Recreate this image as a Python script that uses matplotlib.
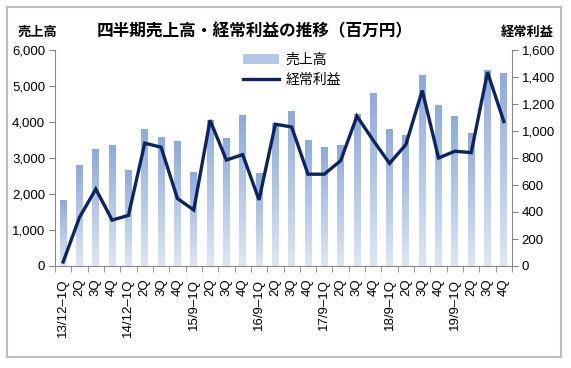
import numpy as np
import matplotlib
matplotlib.use('Agg')
import matplotlib.pyplot as plt
from matplotlib.patches import Rectangle
from matplotlib.lines import Line2D
from matplotlib.colors import LinearSegmentedColormap
from matplotlib.ticker import FuncFormatter

plt.rcParams['font.family'] = ['Liberation Sans', 'Noto Sans CJK JP']

## データ
quarters = ['13/12–1Q', '2Q', '3Q', '4Q',
            '14/12–1Q', '2Q', '3Q', '4Q',
            '15/9–1Q', '2Q', '3Q', '4Q',
            '16/9–1Q', '2Q', '3Q', '4Q',
            '17/9–1Q', '2Q', '3Q', '4Q',
            '18/9–1Q', '2Q', '3Q', '4Q',
            '19/9–1Q', '2Q', '3Q', '4Q']
sales = [1830, 2780, 3240, 3360, 2660, 3800, 3560, 3460,
         2600, 4050, 3550, 4180, 2560, 3950, 4280, 3490,
         3300, 3360, 4220, 4790, 3780, 3620, 5300, 4470,
         4160, 3670, 5420, 5360]
profit = [30, 360, 570, 340, 375, 910, 880, 500,
          415, 1080, 785, 825, 490, 1050, 1030, 680,
          680, 780, 1110, 930, 760, 900, 1300, 800,
          850, 840, 1435, 1070]

W, H = 571, 368
fig = plt.figure(figsize=(W / 100, H / 100), dpi=100)
ax = fig.add_axes([55 / W, 1 - 266 / H, (512 - 55) / W, (266 - 50) / H])

x = np.arange(len(quarters))
bars = ax.bar(x, sales, width=0.42, color='none', edgecolor='none', zorder=2)

## 棒グラフのグラデーション (棒ごとに下が薄く、上が濃い)
grad = np.linspace(0, 1, 256).reshape(-1, 1)
cmap = LinearSegmentedColormap.from_list('bar', ['#dde6f4', '#8eaadb'])
for b in bars:
    x0, w, h = b.get_x(), b.get_width(), b.get_height()
    ax.imshow(grad, extent=[x0, x0 + w, 0, h], origin='lower', cmap=cmap,
              aspect='auto', zorder=1.5, interpolation='bilinear')

gray = '#868686'
ax.set_xlim(-0.5, len(quarters) - 0.5)
ax.set_ylim(0, 6000)
ax.set_yticks(range(0, 6001, 1000))
ax.yaxis.set_major_formatter(FuncFormatter(lambda v, p: f'{int(v):,}'))
for s in ['top', 'right']:
    ax.spines[s].set_visible(False)
for s in ['left', 'bottom']:
    ax.spines[s].set_color(gray)
ax.tick_params(axis='y', length=4, color=gray, labelsize=9.5, pad=3)

ax.set_xticks(x)
ax.set_xticklabels(quarters, rotation=90, fontsize=9.5)
ax.tick_params(axis='x', which='major', length=0, pad=9)
ax.set_xticks(np.arange(-0.5, len(quarters), 1), minor=True)
ax.tick_params(axis='x', which='minor', length=4, color=gray, direction='out')

## 経常利益 (右軸)
ax2 = ax.twinx()
ax2.plot(x, profit, color='#0c2461', lw=2.4, solid_joinstyle='miter', zorder=3)
ax2.set_ylim(0, 1600)
ax2.set_yticks(range(0, 1601, 200))
ax2.yaxis.set_major_formatter(FuncFormatter(lambda v, p: f'{int(v):,}'))
for s in ['top', 'left', 'bottom']:
    ax2.spines[s].set_visible(False)
ax2.spines['right'].set_color(gray)
ax2.tick_params(axis='y', length=4, color=gray, labelsize=9.5, pad=3)
ax2.set_xlim(-0.5, len(quarters) - 0.5)

## テキスト
fig.text(255 / W, 1 - 31 / H, '四半期売上高・経常利益の推移（百万円）',
         ha='center', va='center', fontsize=12, fontweight='bold')
fig.text(38 / W, 1 - 33 / H, '売上高', ha='center', va='center', fontsize=9.5, fontweight='bold')
fig.text(527 / W, 1 - 33 / H, '経常利益', ha='center', va='center', fontsize=9.5, fontweight='bold')

## 凡例
handles = [Rectangle((0, 0), 1, 1, facecolor='#b4c7e7', edgecolor='none'),
           Line2D([0], [0], color='#0c2461', lw=2.4)]
fig.legend(handles, ['売上高', '経常利益'], loc='upper left',
           bbox_to_anchor=(237 / W, 1 - 47 / H), frameon=False, fontsize=10,
           handlelength=2.6, labelspacing=0.45, handletextpad=0.5, borderaxespad=0)

## 外枠
fig.patches.append(Rectangle((7 / W, 1 - 357 / H), (561 - 7) / W, (357 - 7) / H,
                             transform=fig.transFigure, fill=False,
                             edgecolor='#bdbdbd', lw=1.5))

plt.savefig('out.png', dpi=100)
